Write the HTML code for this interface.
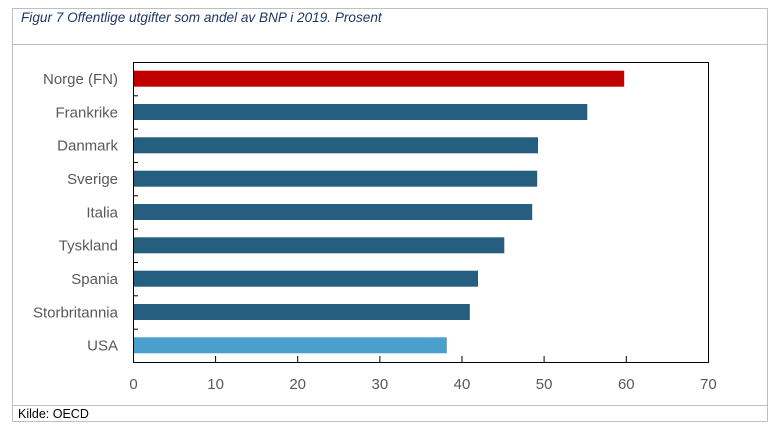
<!DOCTYPE html>
<html><head><meta charset="utf-8"><style>
body{margin:0;background:#fff;}
svg{display:block;font-family:"Liberation Sans",sans-serif;}
</style></head><body>
<svg width="778" height="436" viewBox="0 0 778 436">
<rect x="12.5" y="8.5" width="755" height="413" fill="#fff" stroke="#bfbfbf"/>
<line x1="12" y1="44.5" x2="768" y2="44.5" stroke="#bfbfbf"/>
<line x1="12" y1="405.5" x2="768" y2="405.5" stroke="#bfbfbf"/>
<text x="21" y="22" font-size="13.6" font-style="italic" fill="#1f3864">Figur 7 Offentlige utgifter som andel av BNP i 2019. Prosent</text>
<text x="18" y="418" font-size="12.5" fill="#000">Kilde: OECD</text>
<g>
<rect x="133" y="70.7" width="491.2" height="16" fill="#c00000"/>
<rect x="133" y="104" width="454.3" height="16" fill="#255e7e"/>
<rect x="133" y="137.3" width="405" height="16" fill="#255e7e"/>
<rect x="133" y="170.7" width="404.2" height="16" fill="#255e7e"/>
<rect x="133" y="204" width="399.2" height="16" fill="#255e7e"/>
<rect x="133" y="237.3" width="371.3" height="16" fill="#255e7e"/>
<rect x="133" y="270.7" width="345" height="16" fill="#255e7e"/>
<rect x="133" y="304" width="336.8" height="16" fill="#255e7e"/>
<rect x="133" y="337.3" width="313.8" height="16" fill="#4aa0cc"/>
</g>
<rect x="133.5" y="62.5" width="575" height="300" fill="none" stroke="#000"/>
<g stroke="#000">
<line x1="133" y1="95.8" x2="138" y2="95.8"/><line x1="133" y1="129.2" x2="138" y2="129.2"/>
<line x1="133" y1="162.5" x2="138" y2="162.5"/><line x1="133" y1="195.8" x2="138" y2="195.8"/>
<line x1="133" y1="229.2" x2="138" y2="229.2"/><line x1="133" y1="262.5" x2="138" y2="262.5"/>
<line x1="133" y1="295.8" x2="138" y2="295.8"/><line x1="133" y1="329.2" x2="138" y2="329.2"/>
<line x1="215.6" y1="356" x2="215.6" y2="362"/><line x1="297.7" y1="356" x2="297.7" y2="362"/>
<line x1="379.9" y1="356" x2="379.9" y2="362"/><line x1="462" y1="356" x2="462" y2="362"/>
<line x1="544.1" y1="356" x2="544.1" y2="362"/><line x1="626.3" y1="356" x2="626.3" y2="362"/>
</g>
<g font-size="15" fill="#595959" text-anchor="end">
<text x="118" y="84">Norge (FN)</text>
<text x="118" y="117.3">Frankrike</text>
<text x="118" y="150.7">Danmark</text>
<text x="118" y="184">Sverige</text>
<text x="118" y="217.3">Italia</text>
<text x="118" y="250.7">Tyskland</text>
<text x="118" y="284">Spania</text>
<text x="118" y="317.3">Storbritannia</text>
<text x="118" y="350.7">USA</text>
</g>
<g font-size="15" fill="#595959" text-anchor="middle">
<text x="133.5" y="389">0</text><text x="215.6" y="389">10</text><text x="297.7" y="389">20</text>
<text x="379.9" y="389">30</text><text x="462" y="389">40</text><text x="544.1" y="389">50</text>
<text x="626.3" y="389">60</text><text x="708.4" y="389">70</text>
</g>
</svg>
</body></html>
